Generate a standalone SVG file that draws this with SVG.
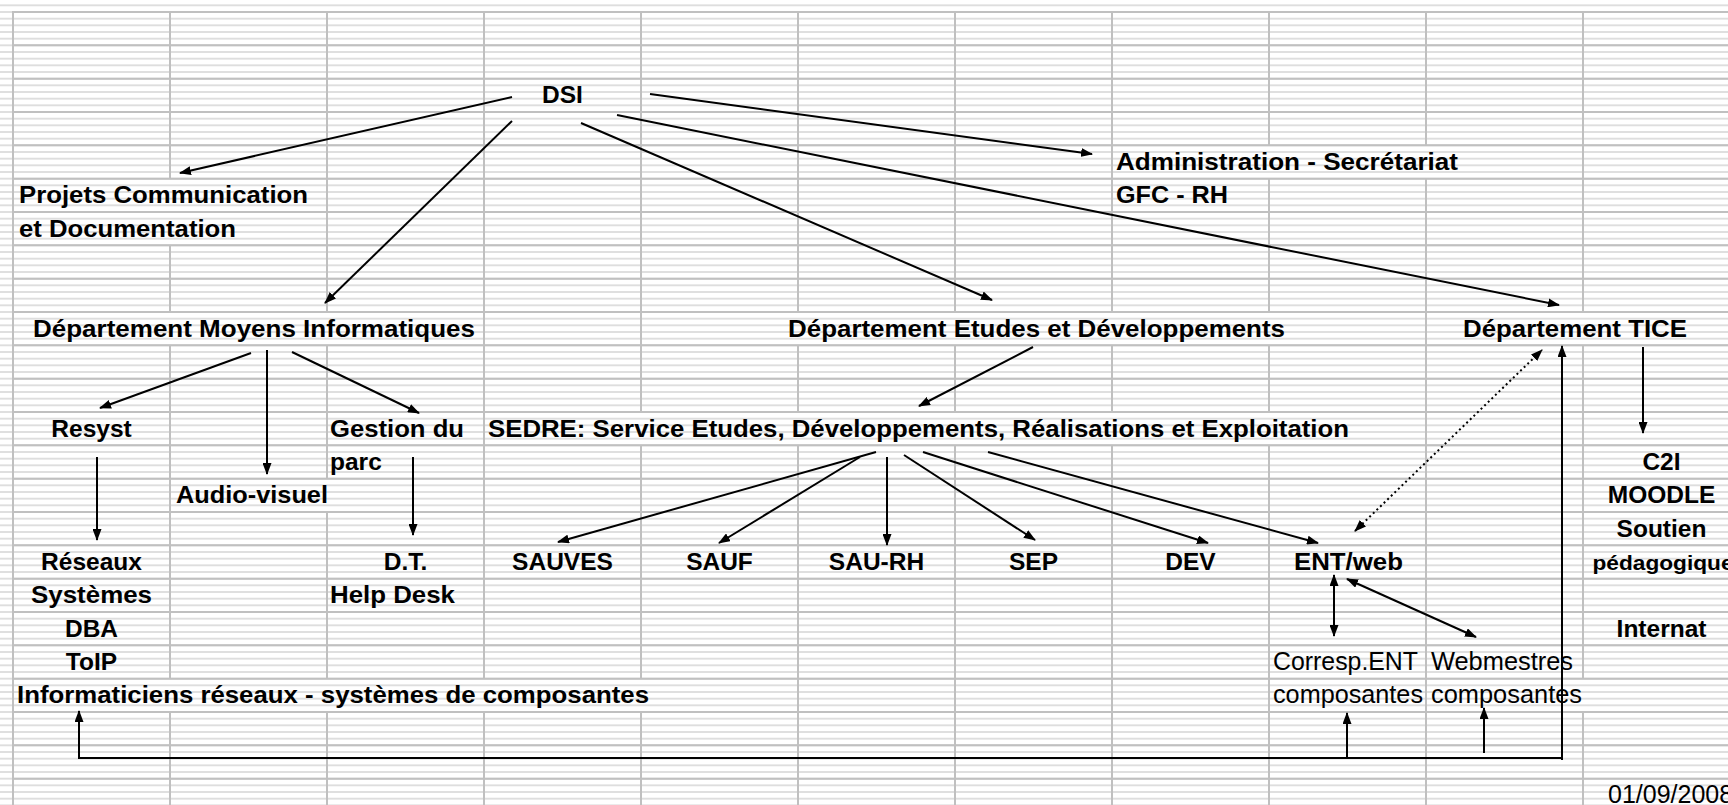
<svg xmlns="http://www.w3.org/2000/svg" width="1728" height="805" viewBox="0 0 1728 805">
<defs>
<style>
.b{font-family:"Liberation Sans",Arial,sans-serif;font-weight:bold;font-size:24.5px;fill:#000}
.r{font-family:"Liberation Sans",Arial,sans-serif;font-size:25px;fill:#000}
.m{text-anchor:middle}
.ln{stroke:#000;stroke-width:2;fill:none}
.a{marker-end:url(#ah)}
.aa{marker-start:url(#ah);marker-end:url(#ah)}
.dot{stroke-dasharray:2 3}
.grid{stroke:#c0c0c0;stroke-width:2;fill:none}
</style>
<pattern id="stripes" patternUnits="userSpaceOnUse" x="0" y="12" width="10" height="6.6667">
<rect x="0" y="-0.8" width="10" height="1.6" fill="#d8d8d8"/>
<rect x="0" y="5.8667" width="10" height="1.6" fill="#d8d8d8"/>
</pattern>
<marker id="ah" viewBox="0 0 12 9" refX="11" refY="4.5" markerWidth="12" markerHeight="9" markerUnits="userSpaceOnUse" orient="auto-start-reverse">
<path d="M0,0 L12,4.5 L0,9 z" fill="#000"/>
</marker>
</defs>
<rect width="1728" height="805" fill="#fff"/>
<rect width="1728" height="805" fill="url(#stripes)"/>
<g id="grid" class="grid">
<path d="M12,12H1728 M12,45.33H1728 M12,78.67H1728 M12,112H1728 M12,145.33H1728 M12,178.67H1728 M12,212H1728 M12,245.33H1728 M12,278.67H1728 M12,312H1728 M12,345.33H1728 M12,378.67H1728 M12,412H1728 M12,445.33H1728 M12,478.67H1728 M12,512H1728 M12,545.33H1728 M12,578.67H1728 M12,612H1728 M12,645.33H1728 M12,678.67H1728 M12,712H1728 M12,745.33H1728 M12,778.67H1728"/>
<path d="M13,12V805"/>
<path d="M170,12V178.67 M170,245.33V312 M170,345.33V678.67 M170,712V805"/>
<path d="M327,12V312 M327,345.33V478.67 M327,512V678.67 M327,712V805"/>
<path d="M484,12V678.67 M484,712V805"/>
<path d="M641,12V412 M641,445.33V678.67 M641,712V805"/>
<path d="M798,12V312 M798,345.33V412 M798,445.33V805"/>
<path d="M955,12V312 M955,345.33V412 M955,445.33V805"/>
<path d="M1112,12V312 M1112,345.33V412 M1112,445.33V805"/>
<path d="M1269,12V145.33 M1269,178.67V312 M1269,345.33V412 M1269,445.33V805"/>
<path d="M1426,12V145.33 M1426,178.67V805"/>
<path d="M1583,12V312 M1583,345.33V678.67 M1583,712V805"/>
</g>
<g id="connectors">
<path class="ln a" d="M512,97 L180,173"/>
<path class="ln a" d="M512,121 L325,303"/>
<path class="ln a" d="M581,123 L992,300"/>
<path class="ln a" d="M650,94 L1092,154"/>
<path class="ln a" d="M617,115 L1559,305"/>
<path class="ln a" d="M251,353 L100,408"/>
<path class="ln a" d="M267,350 L267,474"/>
<path class="ln a" d="M292,352 L419,413"/>
<path class="ln a" d="M97,457 L97,540"/>
<path class="ln a" d="M413,457 L413,535"/>
<path class="ln a" d="M1033,347 L919,406"/>
<path class="ln a" d="M876,452 L558,542"/>
<path class="ln a" d="M860,457 L719,543"/>
<path class="ln a" d="M887,457 L887,545"/>
<path class="ln a" d="M904,455 L1035,540"/>
<path class="ln a" d="M923,452 L1208,543"/>
<path class="ln a" d="M988,452 L1318,543"/>
<path class="ln aa dot" d="M1355,531 L1542,350"/>
<path class="ln a" d="M1643,347 L1643,433"/>
<path class="ln aa" d="M1334,575 L1334,636"/>
<path class="ln aa" d="M1347,579 L1476,637"/>
<path class="ln a" d="M79,758 L79,711"/>
<path class="ln" d="M78,758 L1563,758"/>
<path class="ln a" d="M1562,760 L1562,346"/>
<path class="ln a" d="M1347,758 L1347,713"/>
<path class="ln a" d="M1484,753 L1484,708"/>
</g>
<g id="n-dsi"><text class="b m" x="562.5" y="103.2">DSI</text></g>
<g id="n-projets"><text class="b" x="19" y="203.2" textLength="289" lengthAdjust="spacingAndGlyphs">Projets Communication</text><text class="b" x="19" y="236.5" textLength="217" lengthAdjust="spacingAndGlyphs">et Documentation</text></g>
<g id="n-admin"><text class="b" x="1116" y="169.8" textLength="342" lengthAdjust="spacingAndGlyphs">Administration - Secrétariat</text><text class="b" x="1116" y="203.2" textLength="112" lengthAdjust="spacingAndGlyphs">GFC - RH</text></g>
<g id="n-dmi"><text class="b" x="33" y="336.5" textLength="442" lengthAdjust="spacingAndGlyphs">Département Moyens Informatiques</text></g>
<g id="n-ded"><text class="b" x="788" y="336.5" textLength="497" lengthAdjust="spacingAndGlyphs">Département Etudes et Développements</text></g>
<g id="n-tice"><text class="b" x="1463" y="336.5" textLength="224" lengthAdjust="spacingAndGlyphs">Département TICE</text></g>
<g id="n-resyst"><text class="b m" x="91.5" y="436.5">Resyst</text></g>
<g id="n-gestion"><text class="b" x="330" y="436.5" textLength="134" lengthAdjust="spacingAndGlyphs">Gestion du</text><text class="b" x="330" y="469.8">parc</text></g>
<g id="n-sedre"><text class="b" x="488" y="436.5" textLength="861" lengthAdjust="spacingAndGlyphs">SEDRE: Service Etudes, Développements, Réalisations et Exploitation</text></g>
<g id="n-audio"><text class="b" x="176" y="503.2" textLength="152" lengthAdjust="spacingAndGlyphs">Audio-visuel</text></g>
<g id="n-ticelist"><text class="b m" x="1661.5" y="469.8">C2I</text><text class="b m" x="1661.5" y="503.2">MOODLE</text><text class="b m" x="1661.5" y="536.5">Soutien</text><text class="b m" x="1663" y="569.8" style="font-size:21px" textLength="141" lengthAdjust="spacingAndGlyphs">pédagogique</text><text class="b m" x="1661.5" y="636.5">Internat</text></g>
<g id="n-reseaux"><text class="b m" x="91.5" y="569.8">Réseaux</text><text class="b m" x="91.5" y="603.2" textLength="121" lengthAdjust="spacingAndGlyphs">Systèmes</text><text class="b m" x="91.5" y="636.5">DBA</text><text class="b m" x="91.5" y="669.8">ToIP</text></g>
<g id="n-dt"><text class="b m" x="405.5" y="569.8">D.T.</text><text class="b" x="330" y="603.2" textLength="125" lengthAdjust="spacingAndGlyphs">Help Desk</text></g>
<g id="n-sauves"><text class="b m" x="562.5" y="569.8">SAUVES</text></g>
<g id="n-sauf"><text class="b m" x="719.5" y="569.8">SAUF</text></g>
<g id="n-saurh"><text class="b m" x="876.5" y="569.8">SAU-RH</text></g>
<g id="n-sep"><text class="b m" x="1033.5" y="569.8">SEP</text></g>
<g id="n-dev"><text class="b m" x="1190.5" y="569.8">DEV</text></g>
<g id="n-ent"><text class="b m" x="1348.5" y="569.8" textLength="109" lengthAdjust="spacingAndGlyphs">ENT/web</text></g>
<g id="n-info"><text class="b" x="17" y="703.2" textLength="632" lengthAdjust="spacingAndGlyphs">Informaticiens réseaux - systèmes de composantes</text></g>
<g id="n-corresp"><text class="r" x="1273" y="669.8" textLength="145" lengthAdjust="spacingAndGlyphs">Corresp.ENT</text><text class="r" x="1273" y="703.2" textLength="150" lengthAdjust="spacingAndGlyphs">composantes</text></g>
<g id="n-webm"><text class="r" x="1431" y="669.8" textLength="142" lengthAdjust="spacingAndGlyphs">Webmestres</text><text class="r" x="1431" y="703.2" textLength="151" lengthAdjust="spacingAndGlyphs">composantes</text></g>
<g id="date"><text class="r" x="1608" y="803">01/09/2008</text></g>
</svg>
